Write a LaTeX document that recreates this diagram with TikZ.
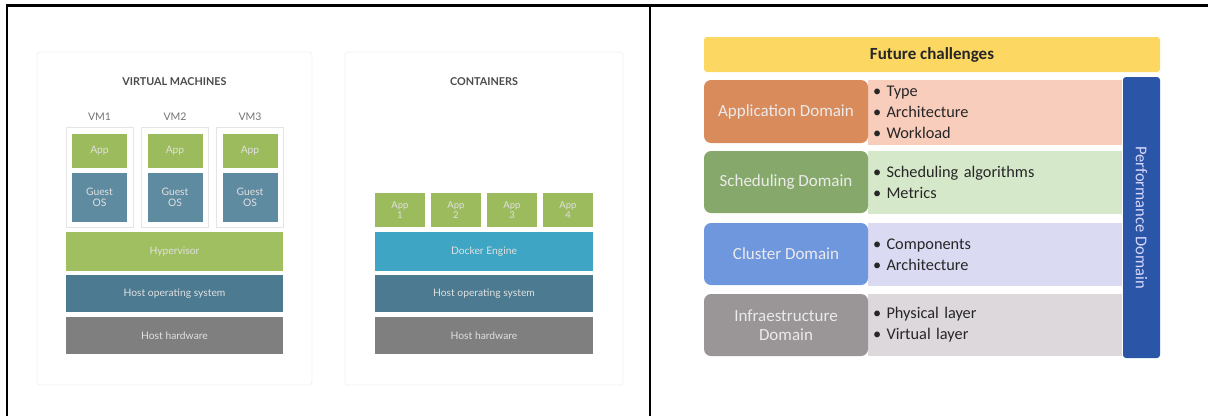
\documentclass[tikz,border=0pt]{standalone}
\usepackage{fontspec}
\setmainfont{Carlito}
\newfontfamily\latofont{Lato}
\definecolor{appgreen}{HTML}{9CBB5C}
\definecolor{guestos}{HTML}{5F8BA1}
\definecolor{hypgreen}{HTML}{A0BF60}
\definecolor{hostos}{HTML}{4B7A91}
\definecolor{hosthw}{HTML}{7F7F7F}
\definecolor{docker}{HTML}{3EA6C4}
\definecolor{titlegray}{HTML}{4A4A4A}
\definecolor{fcyellow}{HTML}{FCD862}
\definecolor{perfblue}{HTML}{2B55A6}
\definecolor{apporange}{HTML}{D98B5C}
\definecolor{apppink}{HTML}{F8CDBB}
\definecolor{schgreen}{HTML}{86A96B}
\definecolor{schlight}{HTML}{D6E8CA}
\definecolor{clublue}{HTML}{6F97DD}
\definecolor{clulight}{HTML}{DADAF3}
\definecolor{infgray}{HTML}{9A9597}
\definecolor{inflight}{HTML}{DDD8DC}
\begin{document}
\begin{tikzpicture}[x=1pt,y=-1pt,
  panelbox/.style={draw=black!6,line width=0.8pt,rounded corners=3pt},
  ptitle/.style={font=\latofont\bfseries\fontsize{10.8}{12}\selectfont,text=titlegray},
  vmlabel/.style={font=\latofont\fontsize{10.5}{12}\selectfont,text=black!55},
  vmbox/.style={draw=black!10,line width=0.8pt,minimum width=67pt,minimum height=100pt,inner sep=0pt},
  layerbox/.style={minimum height=#1,inner sep=0pt,font=\latofont\fontsize{10.3}{11}\selectfont,text=white!88!black,align=center},
  layerbox/.default=37pt,
  domainbox/.style={rounded corners=7pt,minimum width=164pt,inner sep=2pt,align=center,text=white!92!black,font=\fontsize{17}{19}\selectfont},
  contentbox/.style={minimum width=254pt,text width=244pt,inner xsep=5pt,align=left,font=\fontsize{16.3}{21}\selectfont,text=black!85},
  frameline/.style={line width=2.4pt}
]
\useasboundingbox (0,0) rectangle (1208,416);
% frame
\draw[frameline] (7,416) -- (7,5.5) -- (1208,5.5);
\draw[frameline] (650,5.5) -- (650,416);

% ---------- Virtual machines ----------
\draw[panelbox] (37,52) rectangle (312,385);
\node[ptitle] (vmtitle) at (174.5,82) {VIRTUAL MACHINES};
\foreach \i/\x in {1/99.5,2/175,3/250}{
  \node[vmlabel] (vml\i) at (\x,117) {VM\i};
  \node[vmbox] (vm\i) at (\x,177) {};
  \node[layerbox=34pt,fill=appgreen,minimum width=55pt] (vmapp\i) at (\x,151) {App};
  \node[layerbox=49pt,fill=guestos,minimum width=55pt] (guest\i) at (\x,197.5) {Guest\\OS};
}
\node[layerbox=39pt,fill=hypgreen,minimum width=217pt] (hyp) at (174.5,251.5) {Hypervisor};
\node[layerbox,fill=hostos,minimum width=217pt] (vmhostos) at (174.5,293.5) {Host operating system};
\node[layerbox,fill=hosthw,minimum width=217pt] (vmhosthw) at (174.5,335.5) {Host hardware};

% ---------- Containers ----------
\draw[panelbox] (345,52) rectangle (623,385);
\node[ptitle] (ctitle) at (484,82) {CONTAINERS};
\foreach \i/\x in {1/400,2/456,3/512,4/568}{
  \node[layerbox=34pt,fill=appgreen,minimum width=50pt,font=\latofont\fontsize{9.5}{10.5}\selectfont] (capp\i) at (\x,210) {App\\\i};
}
\node[layerbox=39pt,fill=docker,minimum width=218pt] (dock) at (484,251.5) {Docker Engine};
\node[layerbox,fill=hostos,minimum width=218pt] (chostos) at (484,293.5) {Host operating system};
\node[layerbox,fill=hosthw,minimum width=218pt] (chosthw) at (484,335.5) {Host hardware};

% ---------- Future challenges ----------
\node[fill=fcyellow,rounded corners=3pt,minimum width=456pt,minimum height=35pt,inner sep=0pt,
      font=\bfseries\fontsize{17}{18}\selectfont,text=black!85] (fc) at (932,54.5) {Future challenges};
\node[fill=perfblue,rounded corners=3pt,minimum width=281pt,minimum height=37pt,inner sep=0pt,rotate=-90,
      font=\fontsize{16.5}{18}\selectfont,text=white!85!blue] (perf) at (1141.5,217.5) {Performance Domain};

\node[contentbox,fill=apppink,minimum height=65pt] (appc) at (995,112.5)
  {\textbullet\ Type\\\textbullet\ Architecture\\\textbullet\ Workload};
\node[domainbox,fill=apporange,minimum height=63pt] (appd) at (786,111.5) {Application Domain};

\node[contentbox,fill=schlight,minimum height=63pt] (schc) at (995,182.5)
  {\textbullet\ Scheduling algorithms\\\textbullet\ Metrics};
\node[domainbox,fill=schgreen,minimum height=62pt] (schd) at (786,182) {Scheduling Domain};

\node[contentbox,fill=clulight,minimum height=63pt] (cluc) at (995,254.5)
  {\textbullet\ Components\\\textbullet\ Architecture};
\node[domainbox,fill=clublue,minimum height=62pt] (clud) at (786,254) {Cluster Domain};

\node[contentbox,fill=inflight,minimum height=62pt] (infc) at (995,325)
  {\textbullet\ Physical layer\\\textbullet\ Virtual layer};
\node[domainbox,fill=infgray,minimum height=62pt] (infd) at (786,325) {Infraestructure\\Domain};
\end{tikzpicture}
\end{document}
